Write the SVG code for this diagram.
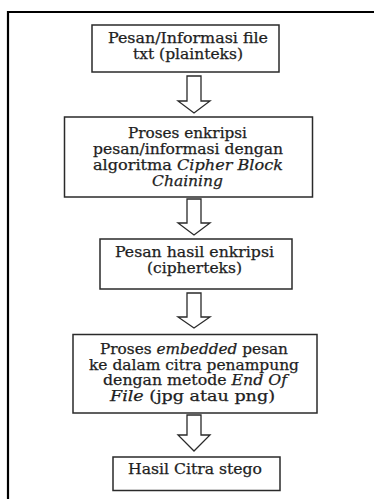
<svg xmlns="http://www.w3.org/2000/svg" width="374" height="499" viewBox="0 0 374 499">
<style>
.box{fill:#fff;stroke:#2a2a2a;stroke-width:1.5}
.frame{fill:none;stroke:#000;stroke-width:2.2}
.arrow{fill:#fff;stroke:#2a2a2a;stroke-width:1.3;stroke-linejoin:miter}
text{font-family:"DejaVu Serif","Liberation Serif",serif;font-size:14px;fill:#1e1e1e;stroke:#1e1e1e;stroke-width:0.25}
.i{font-style:italic}
</style>
<rect width="374" height="499" fill="#fff"/>
<path class="frame" d="M8,499 V12 H374"/>
<g id="connectors">
<polygon class="arrow" points="187,76 201,76 201,101 210,101 194,113 178,101 187,101"/>
<polygon class="arrow" points="187,199 201,199 201,223 210,223 194,235 178,223 187,223"/>
<polygon class="arrow" points="187,293 201,293 201,317 210,317 194,328 178,317 187,317"/>
<polygon class="arrow" points="187,415 201,415 201,435 210,435 194,451 178,435 187,435"/>
</g>
<g id="n1">
<rect class="box" x="92" y="25" width="187" height="47"/>
<text x="108" y="43" textLength="160" lengthAdjust="spacingAndGlyphs">Pesan/Informasi file</text>
<text x="133" y="59" textLength="110" lengthAdjust="spacingAndGlyphs">txt (plainteks)</text>
</g>
<g id="n2">
<rect class="box" x="64.5" y="117" width="248" height="80"/>
<text x="128" y="138" textLength="119" lengthAdjust="spacingAndGlyphs">Proses enkripsi</text>
<text x="93" y="154" textLength="190" lengthAdjust="spacingAndGlyphs">pesan/informasi dengan</text>
<text x="93" y="170" textLength="190" lengthAdjust="spacingAndGlyphs">algoritma <tspan class="i">Cipher Block</tspan></text>
<text x="152" y="186" textLength="71" lengthAdjust="spacingAndGlyphs" class="i">Chaining</text>
</g>
<g id="n3">
<rect class="box" x="100" y="239" width="192" height="50"/>
<text x="115" y="257" textLength="159" lengthAdjust="spacingAndGlyphs">Pesan hasil enkripsi</text>
<text x="147" y="273" textLength="95" lengthAdjust="spacingAndGlyphs">(cipherteks)</text>
</g>
<g id="n4">
<rect class="box" x="73" y="334.5" width="244" height="78.5"/>
<text x="100" y="354" textLength="188" lengthAdjust="spacingAndGlyphs">Proses <tspan class="i">embedded</tspan> pesan</text>
<text x="89" y="370" textLength="210" lengthAdjust="spacingAndGlyphs">ke dalam citra penampung</text>
<text x="103" y="385" textLength="184" lengthAdjust="spacingAndGlyphs">dengan metode <tspan class="i">End Of</tspan></text>
<text x="110" y="401" textLength="165" lengthAdjust="spacingAndGlyphs"><tspan class="i">File</tspan> (jpg atau png)</text>
</g>
<g id="n5">
<rect class="box" x="113" y="457" width="167" height="33.5"/>
<text x="128" y="474" textLength="134" lengthAdjust="spacingAndGlyphs">Hasil Citra stego</text>
</g>
</svg>
